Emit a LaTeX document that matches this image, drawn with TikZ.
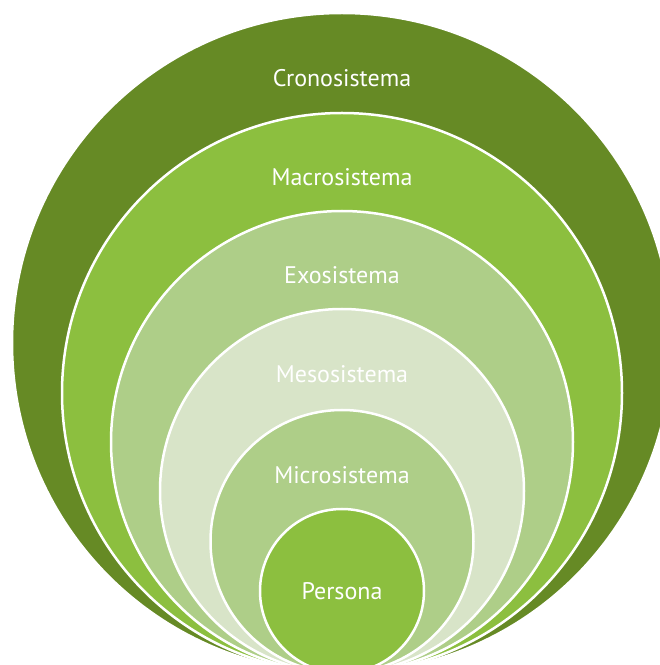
\documentclass[tikz,border=0pt]{standalone}
\usepackage{fontspec}
\setmainfont{PT Sans}
\usepackage{tikz}
\usetikzlibrary{calc}

\definecolor{cronogreen}{HTML}{668A25}
\definecolor{macrogreen}{HTML}{8CBF3F}
\definecolor{exogreen}{HTML}{AECE88}
\definecolor{mesogreen}{HTML}{D8E4C8}

\begin{document}
\begin{tikzpicture}[x=1pt, y=1pt]
	\path [use as bounding box] (0,0) rectangle (660,665);
	\tikzstyle{ring} = [circle, draw=white, line width=2.5pt, inner sep=0pt]
	\tikzstyle{lbl} = [text=white, font=\fontsize{24}{28}\selectfont, inner sep=0pt]
	\coordinate (B) at (342,-8);
	\node[ring, fill=cronogreen, minimum size=660pt] (crono) at ($(B)+(0,330)$) {};
	\node[ring, fill=macrogreen, minimum size=560pt] (macro) at ($(B)+(0,280)$) {};
	\node[ring, fill=exogreen, minimum size=462pt] (exo) at ($(B)+(0,231)$) {};
	\node[ring, fill=mesogreen, minimum size=364pt] (meso) at ($(B)+(0,182)$) {};
	\node[ring, fill=exogreen, minimum size=263pt] (micro) at ($(B)+(0,131.5)$) {};
	\node[ring, fill=macrogreen, minimum size=164pt] (persona) at ($(B)+(0,82)$) {};
	\node[lbl] (tcrono) at ([yshift=-66pt]crono.north) {Cronosistema};
	\node[lbl] (tmacro) at ([yshift=-65pt]macro.north) {Macrosistema};
	\node[lbl] (texo) at ([yshift=-65pt]exo.north) {Exosistema};
	\node[lbl] (tmeso) at ([yshift=-66pt]meso.north) {Mesosistema};
	\node[lbl] (tmicro) at ([yshift=-66pt]micro.north) {Microsistema};
	\node[lbl] (tpersona) at (persona) {Persona};
\end{tikzpicture}
\end{document}
